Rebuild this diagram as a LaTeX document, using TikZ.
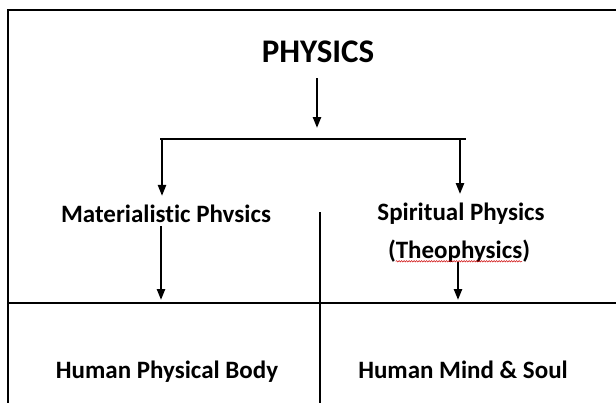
\documentclass[tikz,border=0pt]{standalone}
\usepackage{fontspec}
\setmainfont{Carlito}[Ligatures={NoCommon}]
\usetikzlibrary{arrows.meta,positioning,decorations.pathmorphing}

\begin{document}
\begin{tikzpicture}[x=1pt, y=-1pt,
  font=\fontsize{25}{29}\selectfont\bfseries,
  label/.style={inner sep=0pt, anchor=center},
  rule/.style={line width=2.5pt},
  arrow/.style={-{Triangle[length=11pt, width=8pt]}, line width=2.3pt}
]
\useasboundingbox (0,0) rectangle (616,402);
\clip (0,0) rectangle (616,402);

% frame and dividers
\draw[rule] (640,10) -- (8,10) -- (8,420);
\draw[rule] (8,303) -- (640,303);
\draw[rule] (320,212) -- (320,420);

% labels
\node[label, font=\fontsize{33}{37}\selectfont\bfseries] (physics) at (318,52) {PHYSICS};
\node[label] (matphys) at (166,214) {Materialistic Phvsics};
\node[label] (spirphys) at (461,214) {Spiritual Physics};
\node[label] (theo) at (459,251) {(Theophysics)};
\node[label] (body) at (167,372) {Human Physical Body};
\node[label] (mind) at (463,370) {Human Mind \& Soul};

% branch points
\coordinate (split) at (317,139);
\coordinate (barL) at (162,139);
\coordinate (barR) at (460,139);
\coordinate (divL) at (161,303);
\coordinate (divR) at (458,303);

\draw[rule] ([xshift=-2pt]barL) -- ([xshift=6pt]barR);
\draw[arrow, shorten <=15pt, shorten >=11pt] (physics.south -| split) -- (split);
\draw[arrow, shorten >=9pt] (barL) -- (barL |- matphys.north);
\draw[arrow, shorten >=9pt] (barR) -- (barR |- spirphys.north);
\draw[arrow, shorten <=3pt, shorten >=3pt] (matphys.south -| divL) -- (divL);
\draw[arrow, shorten >=3pt] (theo.south -| divR) -- (divR);

% spell-check underline
\draw[red!80!black, line width=0.5pt, decorate,
  decoration={snake, amplitude=0.7pt, segment length=2.5pt}]
  ([xshift=8pt, yshift=-3pt]theo.base west) -- ([xshift=-8pt, yshift=-3pt]theo.base east);
\end{tikzpicture}
\end{document}
